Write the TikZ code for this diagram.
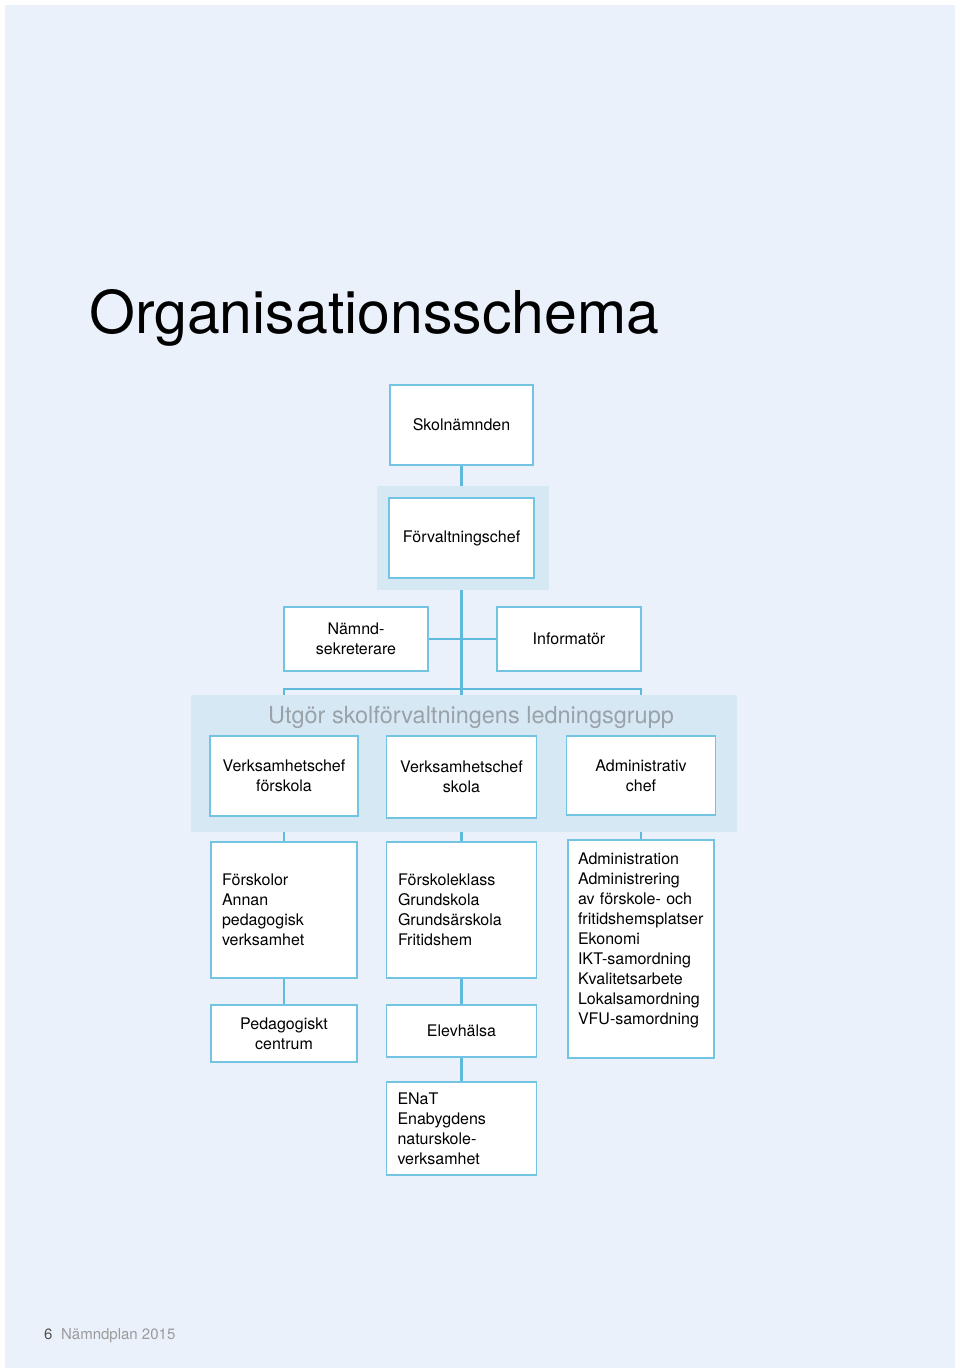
\documentclass[tikz,border=0pt]{standalone}
\usepackage{fontspec}
\setmainfont{TeX Gyre Heros}
\definecolor{pagebg}{HTML}{EAF1FA}
\definecolor{bandbg}{HTML}{D7E8F5}
\definecolor{boxline}{HTML}{72C4E2}
\definecolor{linkline}{HTML}{5FBADE}
\definecolor{bandtext}{HTML}{9AA2A9}
\definecolor{footgray}{HTML}{9B9B9B}
\definecolor{numgray}{HTML}{505050}
\tikzstyle{box}=[draw=boxline,line width=1.5pt,fill=white,inner sep=0pt,align=center,font=\fontsize{16}{20}\selectfont]
\tikzstyle{listbox}=[box,align=left,inner xsep=11pt]
\tikzstyle{edge}=[draw=linkline,line width=2.5pt]
\tikzstyle{band}=[fill=bandbg]
\pgfdeclarelayer{back}
\pgfdeclarelayer{lines}
\pgfdeclarelayer{bands}
\pgfsetlayers{back,lines,bands,main}

\begin{document}
\begin{tikzpicture}[x=1pt,y=-1pt]
      \tikzset{boxsize/.style 2 args={minimum width=#1pt,minimum height=#2pt}}
      \useasboundingbox (0,0) rectangle (960,1372);
      \begin{pgfonlayer}{back}
        \fill[white] (0,0) rectangle (960,1372);
        \fill[pagebg] (5,5) rectangle (955,1368);
      \end{pgfonlayer}
      \node[anchor=base west,inner sep=0pt,font=\fontsize{59}{70}\selectfont] (title) at (89,333) {Organisationsschema};
      \node[box,boxsize={143}{80}] (skol) at (461.5,425) {Skolnämnden};
      \node[box,boxsize={145}{80}] (forv) at (461.5,538) {Förvaltningschef};
      \node[box,boxsize={144}{64}] (namnd) at (356,639) {Nämnd-\\sekreterare};
      \node[box,boxsize={144}{64}] (info) at (569,639) {Informatör};
      \node[font=\fontsize{23.5}{28}\selectfont,text=bandtext] (group) at (471,717) {Utgör skolförvaltningens ledningsgrupp};
      \node[box,boxsize={148}{80}] (vf) at (284,776) {Verksamhetschef\\förskola};
      \node[box,boxsize={150}{82}] (vs) at (461.5,777) {Verksamhetschef\\skola};
      \node[box,boxsize={149}{79}] (ac) at (641,775.5) {Administrativ\\chef};
      \node[listbox,boxsize={146}{136},text width=124pt] (fsk) at (284,910) {Förskolor\\Annan\\pedagogisk\\verksamhet};
      \node[listbox,boxsize={150}{136},text width=127pt] (fkl) at (461.5,910) {Förskoleklass\\Grundskola\\Grundsärskola\\Fritidshem};
      \node[listbox,boxsize={146}{218},inner xsep=10pt,text width=126pt] (adm) at (641,949) {Administration\\Administrering\\av förskole- och\\fritidshemsplatser\\Ekonomi\\IKT-samordning\\Kvalitetsarbete\\Lokalsamordning\\VFU-samordning\\ \mbox{}};
      \node[box,boxsize={146}{57}] (ped) at (284,1033.5) {Pedagogiskt\\centrum};
      \node[box,boxsize={150}{52}] (elev) at (461.5,1031) {Elevhälsa};
      \node[listbox,boxsize={150}{93},text width=128pt] (enat) at (461.5,1128.5) {ENaT\\Enabygdens\\naturskole-\\verksamhet};
      \node[anchor=base west,inner sep=0pt,font=\fontsize{15}{18}\selectfont,text=numgray] (pagenum) at (44,1339) {6};
      \node[anchor=base west,inner sep=0pt,font=\fontsize{15}{18}\selectfont,text=footgray] (footer) at (61,1339) {Nämndplan 2015};
      \coordinate (bar) at (461.5,689);
      \begin{pgfonlayer}{lines}
        \draw[edge] (skol) to (forv);
        \draw[edge] (forv) to (vs);
        \draw[edge] (namnd) to (info);
        \draw[edge] (vf) |- (bar) -| (ac);
        \draw[edge] (vf) to (fsk);
        \draw[edge] (fsk) to (ped);
        \draw[edge] (vs) to (fkl);
        \draw[edge] (fkl) to (elev);
        \draw[edge] (elev) to (enat);
        \draw[edge] (ac) to (adm);
      \end{pgfonlayer}
      \begin{pgfonlayer}{bands}
        \fill[band] (377,486) rectangle (549,590);
        \fill[band] (191,695) rectangle (737,832);
      \end{pgfonlayer}
    \end{tikzpicture}
\end{document}
